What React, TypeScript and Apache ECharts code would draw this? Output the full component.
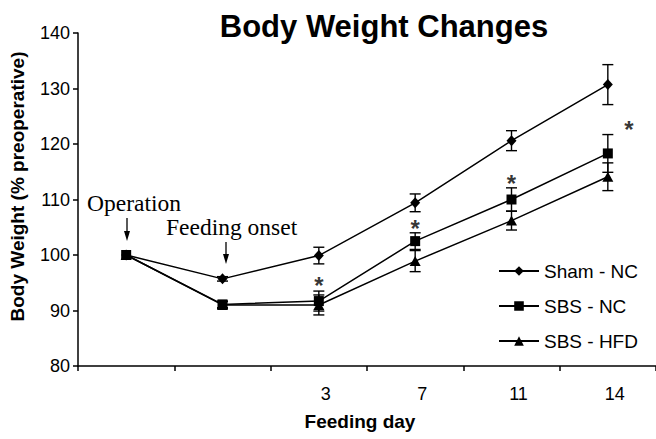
import React, { useEffect, useRef } from "react";
import * as echarts from "echarts";

const categories = ["Operation", "Feeding onset", "3", "7", "11", "14"];
const xTickLabels = ["", "", "3", "7", "11", "14"];
const seriesNames = ["Sham - NC", "SBS - NC", "SBS - HFD"];
const shamNC = [100, 95.7, 99.9, 109.4, 120.6, 130.7];
const shamNCErr = [0, 0.4, 1.5, 1.6, 1.8, 3.6];
const sbsNC = [100, 91.1, 91.7, 102.5, 110.0, 118.3];
const sbsNCErr = [0, 0.6, 1.8, 1.5, 2.1, 3.4];
const sbsHFD = [100, 91.0, 91.0, 98.9, 106.2, 114.1];
const sbsHFDErr = [0, 0.6, 1.8, 1.9, 1.7, 2.5];
const asteriskIdx = [2, 3, 4, 5];
const asteriskY = [95.5, 105.8, 114.0, 123.7];
const yTicks = [80, 90, 100, 110, 120, 130, 140];

const FONT = "'Liberation Sans', Arial, sans-serif";
const SERIF = "'Liberation Serif', 'Times New Roman', serif";

function errData(vals: number[], errs: number[]) {
  return vals.map((v, i) => [i, v - errs[i], v + errs[i]]);
}

function errorSeries(name: string, vals: number[], errs: number[]) {
  return {
    type: "custom",
    name: name + " err",
    data: errData(vals, errs).filter((d) => d[2] - d[1] > 0.01),
    encode: { x: 0, y: [1, 2] },
    z: 1,
    renderItem: (params: any, api: any) => {
      const x = api.value(0);
      const lo = api.coord([x, api.value(1)]);
      const hi = api.coord([x, api.value(2)]);
      const hw = 5.5;
      const style = { stroke: "#000", lineWidth: 1.4 };
      return {
        type: "group",
        children: [
          { type: "line", shape: { x1: lo[0], y1: lo[1], x2: hi[0], y2: hi[1] }, style },
          { type: "line", shape: { x1: lo[0] - hw, y1: lo[1], x2: lo[0] + hw, y2: lo[1] }, style },
          { type: "line", shape: { x1: hi[0] - hw, y1: hi[1], x2: hi[0] + hw, y2: hi[1] }, style },
        ],
      };
    },
  };
}

function lineSeries(name: string, vals: number[], symbol: string, size: any) {
  return {
    type: "line",
    name,
    data: vals,
    symbol,
    symbolSize: size,
    showAllSymbol: true,
    lineStyle: { color: "#000", width: 1.5 },
    itemStyle: { color: "#000", borderWidth: 0 },
    z: 3,
  };
}

export default function App() {
  const ref = useRef<HTMLDivElement>(null);
  useEffect(() => {
    if (!ref.current) return;
    const chart = echarts.init(ref.current, undefined, { renderer: "svg" });
    chart.setOption({
      animation: false,
      backgroundColor: "#fff",
      title: {
        text: "Body Weight Changes",
        left: 379,
        top: 6,
        textAlign: "center",
        textStyle: { fontFamily: FONT, fontWeight: "bold", fontSize: 31, color: "#000" },
      },
      grid: { left: 78, top: 33, width: 583, height: 333, containLabel: false },
      legend: {
        data: seriesNames,
        orient: "vertical",
        left: 493,
        top: 256,
        itemWidth: 40,
        itemHeight: 12,
        itemGap: 15,
        textStyle: { fontFamily: FONT, fontSize: 19, lineHeight: 20, color: "#000" },
      },
      xAxis: {
        type: "category",
        data: categories,
        boundaryGap: true,
        axisLine: { lineStyle: { color: "#000", width: 1.5 } },
        axisTick: { show: true, length: 5, lineStyle: { color: "#000", width: 1.5 } },
        axisLabel: {
          formatter: (_v: string, i: number) => xTickLabels[i],
          margin: 19,
          fontFamily: FONT,
          fontSize: 18,
          color: "#000",
          padding: [0, 0, 0, 14],
        },
        name: "Feeding day",
        nameLocation: "middle",
        nameGap: 46,
        nameTextStyle: {
          fontFamily: FONT,
          fontWeight: "bold",
          fontSize: 19,
          color: "#000",
          padding: [0, 14, 0, 0],
        },
        splitLine: { show: false },
      },
      yAxis: {
        type: "value",
        min: yTicks[0],
        max: yTicks[yTicks.length - 1],
        interval: 10,
        axisLine: { show: true, lineStyle: { color: "#000", width: 1.5 } },
        axisTick: { show: true, length: 5, lineStyle: { color: "#000", width: 1.5 } },
        axisLabel: { margin: 8, fontFamily: FONT, fontSize: 18, color: "#000" },
        splitLine: { show: false },
        name: "Body Weight (% preoperative)",
        nameLocation: "middle",
        nameGap: 51,
        nameTextStyle: {
          fontFamily: FONT,
          fontWeight: "bold",
          fontSize: 19,
          color: "#000",
          padding: [0, 0, 0, 26],
        },
      },
      series: [
        errorSeries(seriesNames[0], shamNC, shamNCErr),
        errorSeries(seriesNames[1], sbsNC, sbsNCErr),
        errorSeries(seriesNames[2], sbsHFD, sbsHFDErr),
        lineSeries(seriesNames[0], shamNC, "diamond", [10, 11]),
        lineSeries(seriesNames[1], sbsNC, "rect", 10),
        lineSeries(seriesNames[2], sbsHFD, "triangle", [11, 10]),
        {
          type: "scatter",
          name: "significance",
          data: asteriskIdx.map((x, i) => ({
            value: [x, asteriskY[i]],
            label: { offset: [x === 5 ? 21 : 0, 6] },
          })),
          symbolSize: 1,
          itemStyle: { color: "rgba(0,0,0,0)" },
          label: {
            show: true,
            position: "inside",
            formatter: "*",
            fontFamily: FONT,
            fontWeight: "bold",
            fontSize: 24,
            color: "#000",
            textBorderWidth: 0,
          },
          z: 4,
        },
      ],
      graphic: [
        {
          type: "text",
          left: 87,
          top: 191,
          style: { text: "Operation", font: `23.5px ${SERIF}`, fill: "#000" },
        },
        {
          type: "text",
          left: 166,
          top: 215,
          style: { text: "Feeding onset", font: `23.5px ${SERIF}`, fill: "#000" },
        },
        {
          type: "line",
          shape: { x1: 127, y1: 218, x2: 127, y2: 236 },
          style: { stroke: "#000", lineWidth: 1.3 },
        },
        {
          type: "polygon",
          shape: { points: [[124, 231], [130, 231], [127, 241]] },
          style: { fill: "#000" },
        },
        {
          type: "line",
          shape: { x1: 226, y1: 242, x2: 226, y2: 259 },
          style: { stroke: "#000", lineWidth: 1.3 },
        },
        {
          type: "polygon",
          shape: { points: [[223, 254], [229, 254], [226, 264]] },
          style: { fill: "#000" },
        },
      ],
    });
    return () => chart.dispose();
  }, []);
  return (
    <div
      ref={ref}
      style={{ position: "fixed", left: 0, top: 0, width: 656, height: 439, background: "#fff" }}
    />
  );
}
